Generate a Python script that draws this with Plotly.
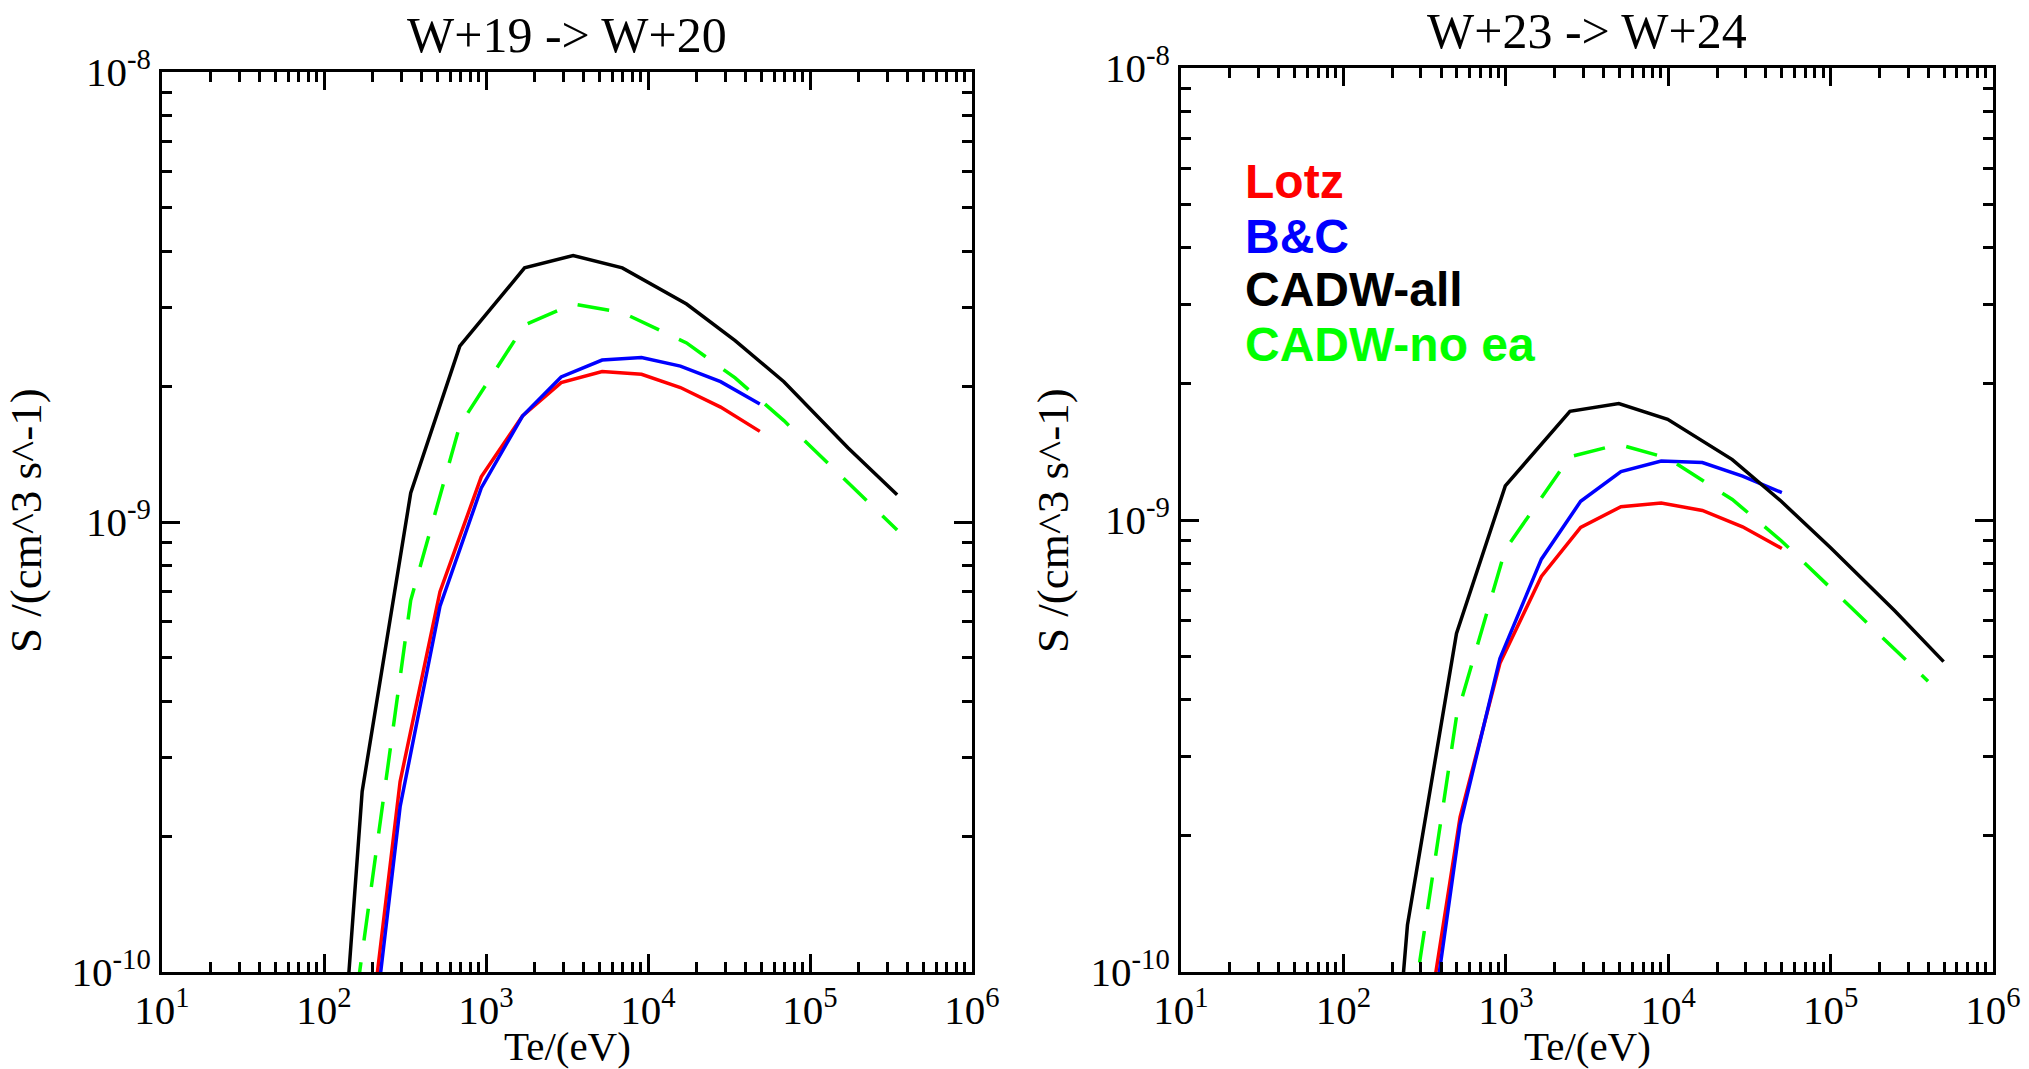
import plotly.graph_objects as go

# ---------------- data ----------------
# W+19 -> W+20
te19_cadw = [68.9, 172, 343, 689, 1730, 3450, 6940, 17300, 34500, 69000, 172000, 345000]
s19_all = [2.8e-12, 2.52e-10, 1.16e-9, 2.46e-9, 3.67e-9, 3.91e-9, 3.67e-9, 3.05e-9, 2.53e-9, 2.05e-9, 1.46e-9, 1.15e-9]
s19_noea = [1.0e-11, 1.11e-10, 6.7e-10, 1.64e-9, 2.74e-9, 3.05e-9, 2.92e-9, 2.50e-9, 2.09e-9, 1.68e-9, 1.22e-9, 9.6e-10]
te19_sc = [170, 295, 520, 935, 1680, 2910, 5210, 9120, 15850, 28050, 49000]
s19_lotz = [5.0e-11, 2.65e-10, 7.0e-10, 1.26e-9, 1.72e-9, 2.04e-9, 2.16e-9, 2.13e-9, 1.99e-9, 1.80e-9, 1.59e-9]
s19_bc = [4.3e-11, 2.33e-10, 6.5e-10, 1.19e-9, 1.72e-9, 2.10e-9, 2.29e-9, 2.32e-9, 2.22e-9, 2.05e-9, 1.83e-9]

# W+23 -> W+24
te23_cadw = [99.3, 248, 497, 993, 2482, 4964, 9927, 24818, 49636, 99271, 248178, 496356]
s23_all = [2.5e-12, 1.27e-10, 5.61e-10, 1.19e-9, 1.74e-9, 1.81e-9, 1.67e-9, 1.36e-9, 1.10e-9, 8.7e-10, 6.3e-10, 4.86e-10]
te23_noea = [99.3, 248, 497, 993, 2482, 4964, 9927, 24818, 49636, 99271, 248178, 398000]
s23_noea = [3.0e-12, 6.95e-11, 3.67e-10, 8.6e-10, 1.38e-9, 1.47e-9, 1.37e-9, 1.11e-9, 9.0e-10, 7.1e-10, 5.2e-10, 4.4e-10]
te23_sc = [295, 523, 920, 1656, 2890, 5118, 9057, 16230, 28700, 50100]
s23_lotz = [5.9e-11, 2.2e-10, 4.82e-10, 7.5e-10, 9.63e-10, 1.07e-9, 1.09e-9, 1.05e-9, 9.66e-10, 8.65e-10]
s23_bc = [4.9e-11, 2.12e-10, 4.94e-10, 8.19e-10, 1.10e-9, 1.28e-9, 1.35e-9, 1.34e-9, 1.25e-9, 1.15e-9]

titles = ["W+19 -> W+20", "W+23 -> W+24"]
x_title = "Te/(eV)"
y_title = "S /(cm^3 s^-1)"
legend_names = ["Lotz", "B&C", "CADW-all", "CADW-no ea"]
x_tickvals = [1e1, 1e2, 1e3, 1e4, 1e5, 1e6]
x_ticktext = ["10<sup>1</sup>", "10<sup>2</sup>", "10<sup>3</sup>", "10<sup>4</sup>", "10<sup>5</sup>", "10<sup>6</sup>"]
y_tickvals = [1e-10, 1e-9, 1e-8]
y_ticktext = ["10<sup>-10</sup>", "10<sup>-9</sup>", "10<sup>-8</sup>"]

# ---------------- layout geometry ----------------
W, H = 2029, 1069
SERIF = "Liberation Serif"
SANS = "Liberation Sans"
RED, BLUE, BLACK, GREEN = "#ff0000", "#0000ff", "#000000", "#00ff00"
LW = 3.5

fig = go.Figure()

panels = [
    dict(xa="x", ya="y", te_c=te19_cadw, all=s19_all, te_n=te19_cadw, noea=s19_noea,
         te_s=te19_sc, lotz=s19_lotz, bc=s19_bc),
    dict(xa="x2", ya="y2", te_c=te23_cadw, all=s23_all, te_n=te23_noea, noea=s23_noea,
         te_s=te23_sc, lotz=s23_lotz, bc=s23_bc),
]
for p in panels:
    fig.add_trace(go.Scatter(x=p["te_s"], y=p["lotz"], mode="lines", line=dict(color=RED, width=LW),
                             xaxis=p["xa"], yaxis=p["ya"], showlegend=False, name=legend_names[0]))
    fig.add_trace(go.Scatter(x=p["te_s"], y=p["bc"], mode="lines", line=dict(color=BLUE, width=LW),
                             xaxis=p["xa"], yaxis=p["ya"], showlegend=False, name=legend_names[1]))
    fig.add_trace(go.Scatter(x=p["te_c"], y=p["all"], mode="lines", line=dict(color=BLACK, width=LW),
                             xaxis=p["xa"], yaxis=p["ya"], showlegend=False, name=legend_names[2]))
    fig.add_trace(go.Scatter(x=p["te_n"], y=p["noea"], mode="lines",
                             line=dict(color=GREEN, width=LW, dash="32px,22px"),
                             xaxis=p["xa"], yaxis=p["ya"], showlegend=False, name=legend_names[3]))

# pixel boxes: (left, right, top, bottom)
boxes = [(162, 972, 72, 972), (1181, 1993, 68, 972)]


def px_dom_x(a, b):
    return [a / W, b / W]


def px_dom_y(top, bottom):
    return [1 - bottom / H, 1 - top / H]


tickfont = dict(family=SERIF, size=41, color="black")
common = dict(type="log", showline=True, linecolor="black", linewidth=3, mirror="ticks",
              ticks="inside", ticklen=18, tickwidth=3, tickcolor="black", showgrid=False,
              zeroline=False, tickfont=tickfont, automargin=False,
              minor=dict(ticks="inside", ticklen=10, tickwidth=2.5, tickcolor="black", dtick="D1", showgrid=False))

for i, (l, r, t, b) in enumerate(boxes):
    xk = "xaxis" if i == 0 else "xaxis2"
    yk = "yaxis" if i == 0 else "yaxis2"
    fig.layout[xk] = dict(common, domain=px_dom_x(l, r), range=[1, 6], tickmode="array",
                          tickvals=x_tickvals, ticktext=x_ticktext, ticklabelstandoff=0,
                          anchor="y" if i == 0 else "y2")
    fig.layout[yk] = dict(common, domain=px_dom_y(t, b), range=[-10, -8], tickmode="array",
                          tickvals=y_tickvals, ticktext=y_ticktext,
                          anchor="x" if i == 0 else "x2")

ann = []
for i, (l, r, t, b) in enumerate(boxes):
    ann.append(dict(text=titles[i], x=(l + r) / 2 / W, y=1 - (t - 37) / H, xref="paper", yref="paper",
                    showarrow=False, xanchor="center", yanchor="middle",
                    font=dict(family=SERIF, size=50, color="black")))
    ann.append(dict(text=x_title, x=(l + r) / 2 / W, y=1 - 1046 / H, xref="paper", yref="paper",
                    showarrow=False, xanchor="center", yanchor="middle",
                    font=dict(family=SERIF, size=41, color="black")))
    ycx = 26 if i == 0 else 1053
    ann.append(dict(text=y_title, x=ycx / W, y=1 - 521 / H, xref="paper", yref="paper",
                    showarrow=False, xanchor="center", yanchor="middle", textangle=-90,
                    font=dict(family=SERIF, size=45, color="black")))

leg_colors = [RED, BLUE, BLACK, GREEN]
leg_baselines = [198, 252, 305, 360]
for name, col, yb in zip(legend_names, leg_colors, leg_baselines):
    ann.append(dict(text="<b>%s</b>" % name, x=1243 / W, y=1 - (yb - 16) / H, xref="paper", yref="paper",
                    showarrow=False, xanchor="left", yanchor="middle",
                    font=dict(family=SANS, size=48, color=col)))

fig.update_layout(width=W, height=H, autosize=False, margin=dict(l=0, r=0, t=0, b=0, pad=0),
                  paper_bgcolor="white", plot_bgcolor="white", annotations=ann, showlegend=False)

fig.write_html("out.html", config={"displayModeBar": False},
               post_script="document.body.style.margin='0';document.body.style.overflow='hidden';")
